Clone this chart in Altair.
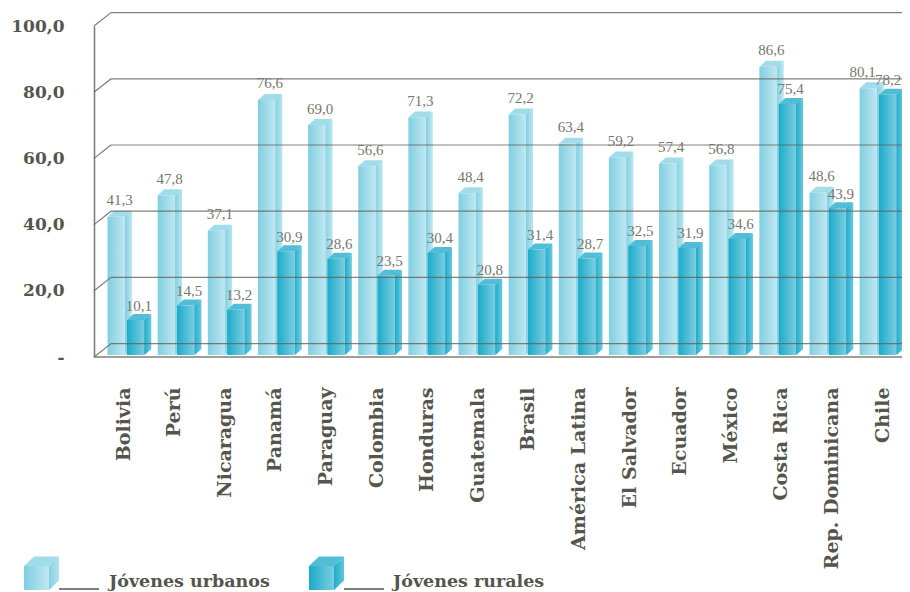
import altair as alt
import pandas as pd

paises = ["Bolivia", "Perú", "Nicaragua", "Panamá", "Paraguay", "Colombia", "Honduras", "Guatemala",
          "Brasil", "América Latina", "El Salvador", "Ecuador", "México", "Costa Rica",
          "Rep. Dominicana", "Chile"]
urbanos = [41.3, 47.8, 37.1, 76.6, 69.0, 56.6, 71.3, 48.4, 72.2, 63.4, 59.2, 57.4, 56.8, 86.6, 48.6, 80.1]
rurales = [10.1, 14.5, 13.2, 30.9, 28.6, 23.5, 30.4, 20.8, 31.4, 28.7, 32.5, 31.9, 34.6, 75.4, 43.9, 78.2]
series = ["Jóvenes urbanos", "Jóvenes rurales"]
grid_values = [0, 20, 40, 60, 80, 100]

rows = []
for p, u, r in zip(paises, urbanos, rurales):
    rows.append({"pais": p, "serie": series[0], "v": u})
    rows.append({"pais": p, "serie": series[1], "v": r})
df = pd.DataFrame(rows)
grid = pd.DataFrame({"g": grid_values})

# layout (plot origin is at page x=94, y=12)
W, H = 808, 345
BX0, BX1 = 12.55, 803.35
yscale = alt.Scale(domain=[0, 100], range=[H, 14])
xoff = alt.Scale(domain=series)
xlabels = alt.Scale(domain=paises, range=[3.7, 813.3], paddingInner=0, paddingOuter=0, round=False)


def xbars(shift=0.0):
    return alt.Scale(domain=paises, range=[BX0 + shift, BX1 + shift], paddingInner=0.228, paddingOuter=0, round=False)


BAR_W = 17.4
DEPTH_X, DEPTH_Y = 6.7, 6.0
TOP_LIFT, BASE_LIFT = -3.5, -2.0

style = {
    series[0]: dict(l="#80cfe1", r="#c0e7f1", top="#a0dcea", s0="#84d1e2", s1="#b4e3ee"),
    series[1]: dict(l="#1babca", r="#7ccde0", top="#52bdd6", s0="#1fadcc", s1="#62c5db"),
}
TEXT = "#55554d"
LINE = "#63635a"


def lerp(a, b, t):
    pa = [int(a[i:i + 2], 16) for i in (1, 3, 5)]
    pb = [int(b[i:i + 2], 16) for i in (1, 3, 5)]
    return "#%02x%02x%02x" % tuple(round(x + (y - x) * t) for x, y in zip(pa, pb))


def hgrad(a, b):
    return alt.Gradient(gradient="linear", x1=0, x2=1, y1=0, y2=0,
                        stops=[alt.GradientStop(color=a, offset=0), alt.GradientStop(color=b, offset=1)])


def para(w, dx, dy, anchor):
    """parallelogram path in pixels (used with size=4)"""
    x0 = anchor
    return f"M{x0},0 L{x0 + w},0 L{x0 + w + dx},{-dy} L{x0 + dx},{-dy} Z"


X = alt.X("pais:N", scale=xbars(), axis=None, sort=paises)
XO = alt.XOffset("serie:N", scale=xoff, sort=series)
Y = alt.Y("v:Q", scale=yscale, axis=None)
Y2 = alt.Y2(datum=0)

layers = []
# category and value axes
layers.append(
    alt.Chart(df).mark_point(opacity=0, size=1).encode(
        x=alt.X("pais:N", scale=xlabels, sort=paises, title=None,
                axis=alt.Axis(orient="bottom", labelAngle=270, ticks=False, domain=False, labelPadding=30,
                              labelFont="DejaVu Serif", labelFontWeight="bold", labelFontSize=19,
                              labelColor=TEXT, labelLimit=300, labelOverlap=False)),
        y=alt.Y("v:Q", scale=yscale, title=None,
                axis=alt.Axis(orient="left", ticks=False, grid=False, values=grid_values, domain=True,
                              domainColor="#7f7f78", domainWidth=1.6, labelPadding=30,
                              labelFont="DejaVu Serif", labelFontWeight="bold", labelFontSize=17,
                              labelColor=TEXT,
                              labelExpr="datum.value === 0 ? '-' : replace(format(datum.value, '.1f'), '.', ',')")),
    )
)

bars = []
for s in series:
    st = style[s]
    d = df[df.serie == s]
    n = 7
    for k in range(n):
        t = k / (n - 1)
        off = DEPTH_X * (k + 0.5) / n
        lift = DEPTH_Y * (k + 0.5) / n
        bars.append(alt.Chart(d).mark_bar(width=1.5, color=lerp(st["s0"], st["s1"], t),
                                          yOffset=TOP_LIFT - lift, y2Offset=BASE_LIFT - lift)
                    .encode(x=alt.X("pais:N", scale=xbars(BAR_W / 2 + off), axis=None, sort=paises),
                            xOffset=XO, y=Y, y2=Y2))
    bars.append(alt.Chart(d).mark_point(shape=para(BAR_W, DEPTH_X, DEPTH_Y, -BAR_W / 2), size=4, filled=True,
                                        opacity=1, color=st["top"], yOffset=TOP_LIFT)
                .encode(x=X, xOffset=XO, y=Y))
    bars.append(alt.Chart(d).mark_bar(width=BAR_W, color=hgrad(st["l"], st["r"]),
                                      yOffset=TOP_LIFT, y2Offset=BASE_LIFT)
                .encode(x=X, xOffset=XO, y=Y, y2=Y2))

gy = alt.Y("g:Q", scale=yscale, axis=None)
back = alt.Chart(grid).mark_rule(color=LINE, strokeWidth=1.2, opacity=0.8, yOffset=-13.4).encode(
    y=gy, x=alt.value(17), x2=alt.value(W))
diag = alt.Chart(grid).mark_rule(color=LINE, strokeWidth=1.2, opacity=0.85, yOffset=0, y2Offset=-13.4).encode(
    y=gy, y2=alt.Y2("g:Q"), x=alt.value(0), x2=alt.value(17))
floor = alt.Chart(grid[grid.g == 0]).mark_rule(color="#7f7f78", strokeWidth=1.6).encode(
    y=gy, x=alt.value(0), x2=alt.value(W))

lab = []
for s, lift, chile_dx in zip(series, (-20, -18), (-9, -3)):
    for sel, dx in ((df.pais != "Chile", 0), (df.pais == "Chile", chile_dx)):
        lab.append(alt.Chart(df[(df.serie == s) & sel]).mark_text(
            font="Liberation Serif", fontSize=15, color="#77776f",
            baseline="middle", dx=DEPTH_X / 2 + dx, dy=lift)
            .encode(x=X, xOffset=XO, y=Y, text=alt.Text("lbl:N"))
            .transform_calculate(lbl="replace(format(datum.v, '.1f'), '.', ',')"))

# legend: cube, leader line and name
leg = []
for s, x0, tx in zip(series, (-70, 215), (15, 299)):
    st = style[s]
    d = pd.DataFrame({"name": [s]})
    y_base = 578
    leg.append(alt.Chart(d).mark_point(
        shape="M0,0 L25,0 L35,-9.5 L10,-9.5 Z", size=4, filled=True, opacity=1, color=st["top"]).encode(
        x=alt.value(x0), y=alt.value(y_base - 24)))
    leg.append(alt.Chart(d).mark_point(
        shape="M0,0 L10,-9.5 L10,-33.5 L0,-24 Z", size=4, filled=True, opacity=1,
        color=hgrad(st["s0"], st["s1"])).encode(x=alt.value(x0 + 25), y=alt.value(y_base)))
    leg.append(alt.Chart(d).mark_rect(color=hgrad(st["l"], st["r"])).encode(
        x=alt.value(x0), x2=alt.value(x0 + 25), y=alt.value(y_base - 24), y2=alt.value(y_base)))
    leg.append(alt.Chart(d).mark_rule(color=TEXT, strokeWidth=1.4).encode(
        x=alt.value(x0 + 35), x2=alt.value(x0 + 75), y=alt.value(y_base - 1)))
    leg.append(alt.Chart(d).mark_text(font="DejaVu Serif", fontWeight="bold", fontSize=17.5, color=TEXT,
                                      align="left", baseline="alphabetic").encode(
        x=alt.value(tx), y=alt.value(y_base - 3), text="name:N"))

chart = alt.layer(*layers, *bars, back, diag, floor, *lab, *leg).resolve_scale(
    x="independent", y="independent", xOffset="independent"
).properties(
    width=W, height=H,
    padding={"left": 86, "top": 4, "right": 0, "bottom": 235},
    autosize=alt.AutoSizeParams(type="none"),
    background="white",
).configure_view(stroke=None)

chart.save("out.html", embed_options={"renderer": "svg", "actions": False})
